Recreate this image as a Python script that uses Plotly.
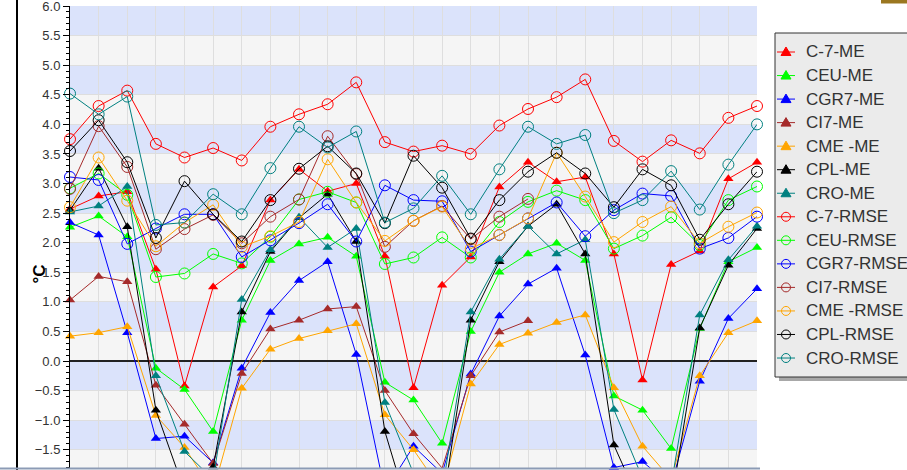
import plotly.graph_objects as go

# 25 time steps along the horizontal axis
steps = list(range(25))

# Mean error (ME) series, °C
c7_me = [2.57, 2.79, 2.86, 1.55, -0.42, 1.25, 1.61, 2.72, 3.24, 2.87, 3.00, 1.77, -0.45,
         1.28, 1.76, 2.94, 3.36, 3.03, 3.11, 1.81, -0.32, 1.63, 1.86, 3.08, 3.36]
ceu_me = [2.26, 2.45, 2.10, -0.12, -0.48, -1.19, 0.69, 1.70, 1.98, 2.09, 1.77, -0.36, -0.66,
          -1.39, 0.50, 1.50, 1.81, 1.99, 1.70, -0.59, -0.83, -1.48, 0.55, 1.68, 1.92]
cgr7_me = [2.34, 2.13, 0.48, -1.31, -1.27, -1.72, -0.12, 0.82, 1.36, 1.68, 0.11, -2.20, -1.44,
           -1.90, -0.22, 0.76, 1.30, 1.57, 0.10, -1.80, -1.70, -2.10, -0.34, 0.72, 1.22]
ci7_me = [1.03, 1.43, 1.34, -0.41, -1.07, -1.73, -0.21, 0.54, 0.69, 0.88, 0.92, -0.50, -1.23,
          -1.81, -0.25, 0.49, 0.68, None, None, None, None, None, None, None, None]
cme_me = [0.42, 0.48, 0.58, -0.92, -1.46, -2.20, -0.46, 0.20, 0.38, 0.51, 0.63, -0.91, -1.50,
          -2.20, -0.39, 0.28, 0.47, 0.65, 0.78, -0.45, -1.44, -2.00, -0.25, 0.48, 0.68]
cpl_me = [2.55, 3.26, 2.27, -0.83, -2.20, -1.79, 0.83, 1.85, 2.42, 2.82, 2.02, -1.19, -2.80,
          -2.50, 0.69, 1.68, 2.28, 2.65, 1.81, -1.42, -2.50, -2.40, 0.56, 1.62, 2.24]
cro_me = [2.52, 2.62, 2.95, -0.25, -1.53, -2.00, 1.04, 1.88, 2.43, 1.92, 2.24, -0.70, -1.90,
          -2.20, 0.83, 1.72, 2.28, 1.81, 2.05, -0.82, -1.98, -2.10, 0.78, 1.71, 2.28]

# Root mean square error (RMSE) series, °C
c7_rmse = [3.75, 4.31, 4.57, 3.67, 3.44, 3.60, 3.39, 3.96, 4.17, 4.34, 4.71, 3.70, 3.54,
           3.64, 3.50, 3.98, 4.26, 4.46, 4.76, 3.72, 3.37, 3.73, 3.51, 4.11, 4.31]
ceu_rmse = [2.92, 3.17, 2.81, 1.42, 1.48, 1.81, 1.65, 2.10, 2.73, 2.86, 2.68, 1.64, 1.75,
            2.09, 1.75, 2.35, 2.69, 2.88, 2.72, 1.90, 2.12, 2.43, 1.96, 2.72, 2.95]
cgr7_rmse = [3.11, 3.06, 1.98, 2.24, 2.48, 2.48, 1.76, 2.04, 2.33, 2.65, 2.02, 2.97, 2.72,
             2.70, 1.85, 2.13, 2.41, 2.68, 2.11, 2.55, 2.83, 2.79, 1.90, 2.08, 2.44]
ci7_rmse = [2.91, 3.97, 3.28, 1.89, 2.23, 2.47, 1.99, 2.44, 2.73, 3.80, 3.16, 1.93, 2.37,
            2.62, 2.06, 2.44, 2.74, None, None, None, None, None, None, None, None]
cme_rmse = [2.60, 3.44, 2.71, 1.94, 2.34, 2.64, 1.93, 2.11, 2.35, 3.41, 2.68, 2.03, 2.37,
            2.61, 1.90, 2.13, 2.41, 3.52, 2.78, 2.01, 2.35, 2.61, 1.99, 2.27, 2.51]
cpl_rmse = [3.55, 4.07, 3.36, 2.08, 3.04, 2.48, 2.02, 2.72, 3.25, 3.63, 3.17, 2.33, 3.47,
            2.93, 2.07, 2.72, 3.20, 3.52, 3.17, 2.60, 3.24, 2.97, 2.05, 2.65, 3.20]
cro_rmse = [4.52, 4.17, 4.47, 2.30, 2.34, 2.82, 2.48, 3.26, 3.96, 3.61, 3.88, 2.34, 2.58,
            3.13, 2.48, 3.24, 3.96, 3.67, 3.82, 2.50, 2.72, 3.21, 2.56, 3.32, 4.00]

me_series = [
    ("C-7-ME", c7_me, "#ff0000"),
    ("CEU-ME", ceu_me, "#00ff00"),
    ("CGR7-ME", cgr7_me, "#0000ff"),
    ("CI7-ME", ci7_me, "#a52a2a"),
    ("CME -ME", cme_me, "#ffa500"),
    ("CPL-ME", cpl_me, "#000000"),
    ("CRO-ME", cro_me, "#008080"),
]
rmse_series = [
    ("C-7-RMSE", c7_rmse, "#ff0000"),
    ("CEU-RMSE", ceu_rmse, "#00ff00"),
    ("CGR7-RMSE", cgr7_rmse, "#0000ff"),
    ("CI7-RMSE", ci7_rmse, "#a52a2a"),
    ("CME -RMSE", cme_rmse, "#ffa500"),
    ("CPL-RMSE", cpl_rmse, "#000000"),
    ("CRO-RMSE", cro_rmse, "#008080"),
]

W, H = 907, 470
L, R, T, B = 70, 757, 6, 468
Y_MIN, Y_MAX = -1.808, 6.0005


def px(xp):
    """pixel x -> paper x"""
    return (xp - L) / (R - L)


def py(yp):
    """pixel y (from top) -> paper y"""
    return (B - yp) / (B - T)


fig = go.Figure()

for name, vals, col in me_series:
    fig.add_trace(go.Scatter(
        x=steps, y=vals, name=name, mode="lines+markers",
        line=dict(color=col, width=1),
        marker=dict(symbol="triangle-up", size=9, color=col),
        cliponaxis=False, showlegend=False,
    ))

for name, vals, col in rmse_series:
    fig.add_trace(go.Scatter(
        x=steps, y=vals, name=name, mode="lines+markers",
        line=dict(color=col, width=1),
        marker=dict(symbol="circle-open", size=11, color=col, line=dict(width=1, color=col)),
        cliponaxis=False, showlegend=False,
    ))

shapes = []
annotations = []

# alternating horizontal bands
for k in range(-2, 6):
    shapes.append(dict(type="rect", xref="paper", yref="y", x0=0, x1=1,
                       y0=k + 0.5, y1=k + 1, fillcolor="#dbe3fb", line=dict(width=0),
                       layer="below"))
# outer frame line on the left
shapes.append(dict(type="line", xref="paper", yref="paper", x0=px(17), x1=px(17),
                   y0=py(472), y1=py(-2), line=dict(color="#000000", width=2)))
# bottom border
shapes.append(dict(type="line", xref="paper", yref="paper", x0=px(0), x1=px(760),
                   y0=py(468.5), y1=py(468.5), line=dict(color="#8c9bb5", width=2)))
# small bar at top right
shapes.append(dict(type="rect", xref="paper", yref="paper", x0=px(881), x1=px(910),
                   y0=py(3.5), y1=py(-2), fillcolor="#9b7720", line=dict(width=0)))

# legend panel: shadow, box, then one row per series
LG_L, LG_T, LG_B = 775, 33, 377
ROW0, ROW_STEP = 52, 23.54
shapes.append(dict(type="rect", xref="paper", yref="paper", x0=px(LG_L + 4), x1=px(912),
                   y0=py(LG_B + 4), y1=py(LG_B), fillcolor="#a8a8a8", line=dict(width=0)))
shapes.append(dict(type="rect", xref="paper", yref="paper", x0=px(LG_L), x1=px(912),
                   y0=py(LG_B), y1=py(LG_T), fillcolor="#ebebeb",
                   line=dict(color="#333333", width=1)))

rows = [(n, c, "tri") for n, _, c in me_series] + [(n, c, "circ") for n, _, c in rmse_series]
for i, (name, col, kind) in enumerate(rows):
    cy = ROW0 + ROW_STEP * i
    cx = 786
    shapes.append(dict(type="line", xref="paper", yref="paper", x0=px(777), x1=px(795),
                       y0=py(cy), y1=py(cy), line=dict(color=col, width=1)))
    if kind == "tri":
        path = "M {:.5f},{:.5f} L {:.5f},{:.5f} L {:.5f},{:.5f} Z".format(
            px(cx - 5), py(cy + 3.5), px(cx + 5), py(cy + 3.5), px(cx), py(cy - 5))
        shapes.append(dict(type="path", xref="paper", yref="paper", path=path,
                           fillcolor=col, line=dict(color=col, width=1)))
    else:
        shapes.append(dict(type="circle", xref="paper", yref="paper",
                           x0=px(cx - 4.5), x1=px(cx + 4.5), y0=py(cy + 4.5), y1=py(cy - 4.5),
                           fillcolor="rgba(0,0,0,0)", line=dict(color=col, width=1)))
    annotations.append(dict(text=name, xref="paper", yref="paper", x=px(804), y=py(cy),
                            xanchor="left", yanchor="middle", showarrow=False,
                            font=dict(size=17, color="#333333")))

annotations.append(dict(text="<b>°C</b>", xref="paper", yref="paper", x=px(27), y=py(274),
                        textangle=-90, showarrow=False, font=dict(size=17, color="#000000")))

fig.update_layout(
    width=W, height=H,
    margin=dict(l=L, r=W - R, t=T, b=H - B, pad=0, autoexpand=False),
    paper_bgcolor="#ffffff",
    plot_bgcolor="#f5f5f5",
    font=dict(family="Liberation Sans, Arial, sans-serif", color="#333333"),
    shapes=shapes,
    annotations=annotations,
    showlegend=False,
    xaxis=dict(range=[0, 24], dtick=1, tick0=0, showgrid=True, gridcolor="#dedede",
               gridwidth=1, showticklabels=False, zeroline=False, showline=False,
               ticks=""),
    yaxis=dict(range=[Y_MIN, Y_MAX], dtick=0.5, tick0=0, tickformat=".1f",
               showgrid=True, gridcolor="#dedede", gridwidth=1,
               ticks="outside", ticklen=6, tickwidth=1, tickcolor="#000000",
               showline=True, linecolor="#000000", linewidth=1,
               zeroline=True, zerolinecolor="#222222", zerolinewidth=1.5,
               tickfont=dict(size=13, color="#333333"), ticklabeloverflow="allow",
               minor=dict(dtick=0.1, ticks="outside", ticklen=3, tickcolor="#000000",
                          showgrid=False)),
)

fig.write_html("out.html")
